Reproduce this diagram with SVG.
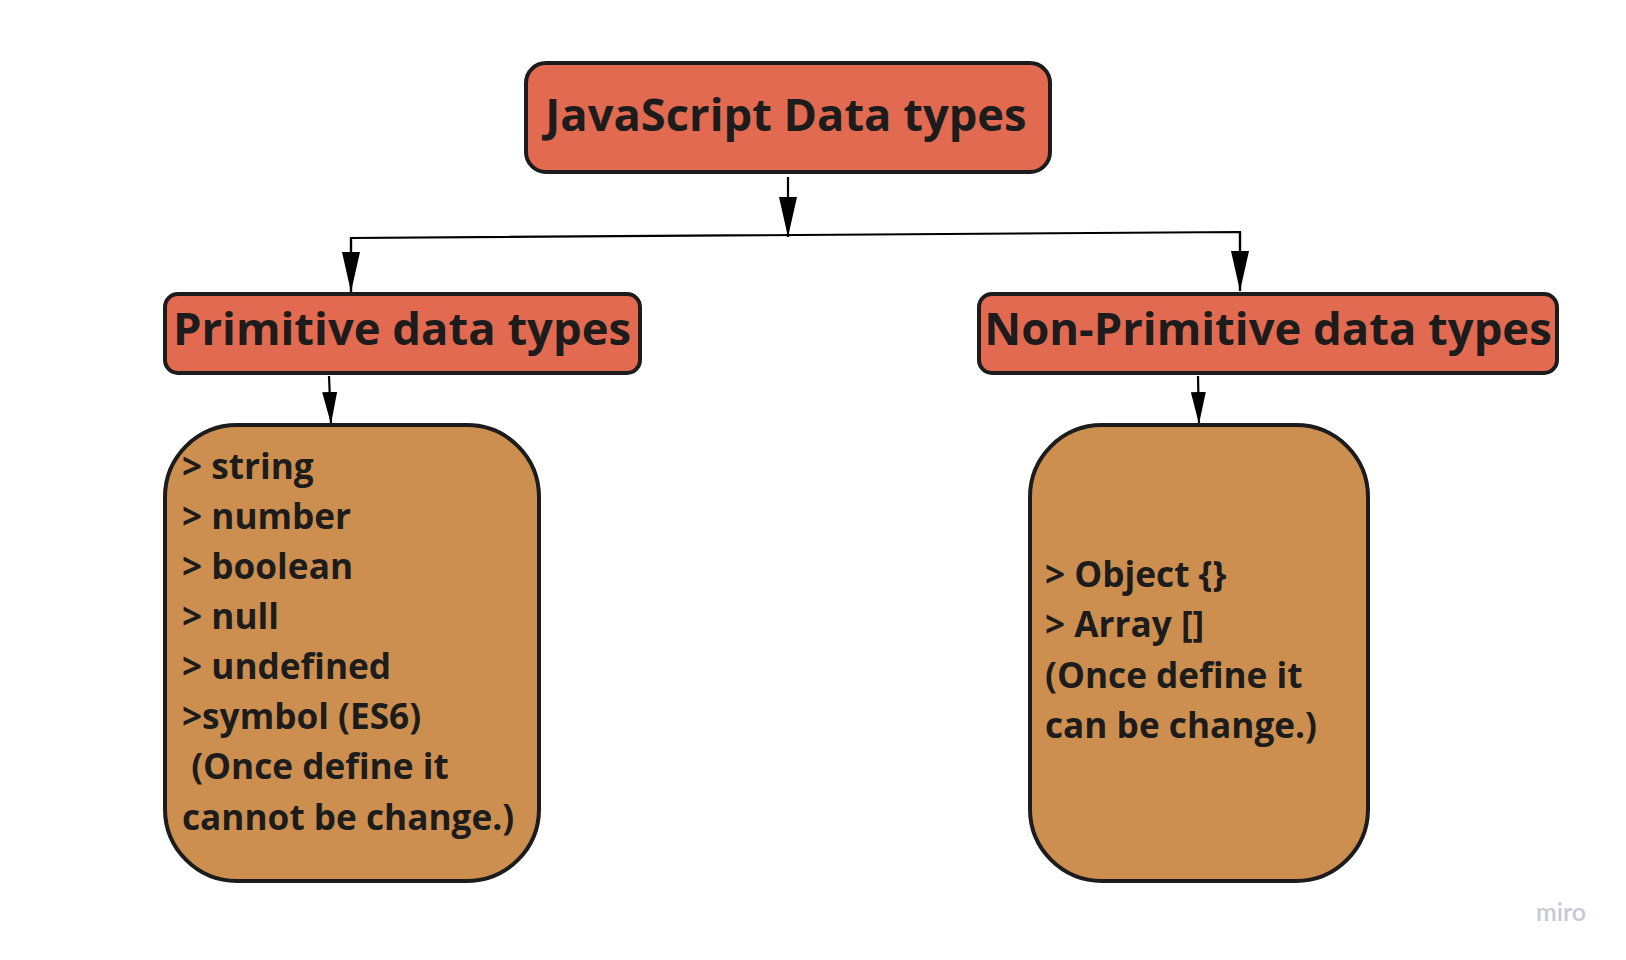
<svg xmlns="http://www.w3.org/2000/svg" width="1626" height="960" viewBox="0 0 1626 960">
<style>
.hdr{fill:#E26A50;stroke:#1c1c1c;stroke-width:4}
.body{fill:#CD8F4F;stroke:#1c1c1c;stroke-width:4}
.t{font-family:"Open Sans","Liberation Sans",sans-serif;font-weight:700;fill:#1c1c1c}
.h1{font-size:45.3px}
.h2{font-size:45.4px}
.li{font-size:35.2px;white-space:pre}
.con{fill:none;stroke:#000;stroke-width:2.2}
</style>
<defs>
<marker id="big" markerUnits="userSpaceOnUse" markerWidth="40" markerHeight="18" refX="40" refY="9" orient="auto">
<path d="M0,0 L40,9 L0,18 z" fill="#000"/>
</marker>
<marker id="small" markerUnits="userSpaceOnUse" markerWidth="32" markerHeight="15" refX="32" refY="7.5" orient="auto">
<path d="M0,0 L32,7.5 L0,15 z" fill="#000"/>
</marker>
</defs>
<rect width="1626" height="960" fill="#fff"/>
<g id="connectors">
<line class="con" x1="788" y1="177" x2="788" y2="237" marker-end="url(#big)"/>
<polyline class="con" points="351,292 351,238 1240,232 1240,291" fill="none"/>
<line class="con" x1="351" y1="238" x2="351" y2="292" marker-end="url(#big)"/>
<line class="con" x1="1240" y1="232" x2="1240" y2="291" marker-end="url(#big)"/>
<line class="con" x1="329" y1="376" x2="331" y2="424" marker-end="url(#small)"/>
<line class="con" x1="1198" y1="376" x2="1199" y2="424" marker-end="url(#small)"/>
</g>
<g id="root">
<rect class="hdr" x="526" y="63" width="524" height="109" rx="20"/>
<text class="t h1" x="786" y="131" text-anchor="middle">JavaScript Data types</text>
</g>
<g id="primitive">
<rect class="hdr" x="165" y="294" width="475" height="79" rx="13"/>
<text class="t h2" x="402" y="345" text-anchor="middle">Primitive data types</text>
</g>
<g id="nonprimitive">
<rect class="hdr" x="979" y="294" width="578" height="79" rx="13"/>
<text class="t h2" x="1268" y="345" text-anchor="middle">Non-Primitive data types</text>
</g>
<g id="primitive-list">
<rect class="body" x="165" y="425" width="374" height="456" rx="72"/>
<text class="t li" x="182" y="479">&gt; string</text>
<text class="t li" x="182" y="529">&gt; number</text>
<text class="t li" x="182" y="579">&gt; boolean</text>
<text class="t li" x="182" y="629">&gt; null</text>
<text class="t li" x="182" y="679">&gt; undefined</text>
<text class="t li" x="182" y="729">&gt;symbol (ES6)</text>
<text class="t li" x="182" y="779"> (Once define it</text>
<text class="t li" x="182" y="830">cannot be change.)</text>
</g>
<g id="nonprimitive-list">
<rect class="body" x="1030" y="425" width="338" height="456" rx="72"/>
<text class="t li" x="1045" y="587">&gt; Object {}</text>
<text class="t li" x="1045" y="637">&gt; Array []</text>
<text class="t li" x="1045" y="688">(Once define it</text>
<text class="t li" x="1045" y="738">can be change.)</text>
</g>
<text x="1536" y="921" font-family="Lato,'Open Sans',sans-serif" font-size="25" font-weight="600" fill="#c8c8d4">miro</text>
</svg>
